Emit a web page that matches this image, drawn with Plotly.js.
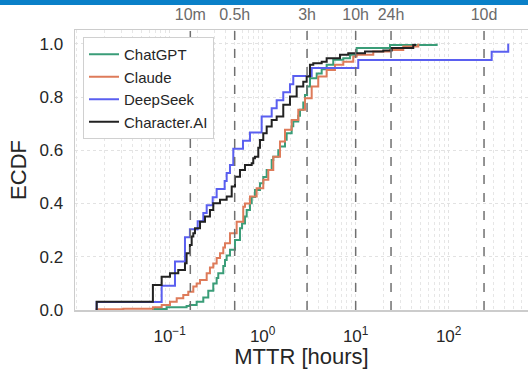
<!DOCTYPE html>
<html>
<head>
<meta charset="utf-8">
<script src="https://cdn.plot.ly/plotly-3.0.1.min.js"></script>
<style>html,body{margin:0;padding:0;background:#fff;overflow:hidden}#chart{width:528px;height:369px}</style>
</head>
<body>
<div id="chart"></div>
<script>
// ECDF step positions (MTTR in hours) and ECDF level after each step
const seriesNames = ["ChatGPT", "Claude", "DeepSeek", "Character.AI"];
const seriesColors = ["#3a9d78", "#de7b5a", "#5a5ff0", "#222222"];

const chatgptX = [0.0661,0.0929,0.152,0.165,0.195,0.2298,0.26,0.2943,0.32,0.333,0.377,0.3933,0.41,0.445,0.5035,0.57,0.60,0.645,0.673,0.73,0.762,0.826,0.935,1.015,1.104,1.25,1.30,1.471,1.535,1.738,1.811,2.05,2.133,2.414,2.518,2.733,2.85,3.0,3.225,3.81,4.31,4.875,5.74,7.36,8.68,10.25,23.4,74.3];
const chatgptY = [0.004,0.01,0.015,0.019,0.031,0.047,0.072,0.10,0.12,0.138,0.165,0.188,0.205,0.226,0.263,0.307,0.325,0.351,0.376,0.401,0.425,0.451,0.476,0.50,0.526,0.564,0.576,0.60,0.614,0.64,0.664,0.69,0.708,0.73,0.752,0.78,0.808,0.84,0.871,0.889,0.905,0.921,0.94,0.946,0.959,0.984,0.996,1.0];

const claudeX = [0.0164,0.0317,0.0661,0.082,0.1007,0.119,0.14,0.1585,0.1795,0.195,0.212,0.25,0.271,0.2943,0.32,0.3475,0.377,0.3933,0.445,0.525,0.618,0.645,0.73,0.861,1.015,1.149,1.30,1.535,1.738,2.05,2.414,2.85,3.365,3.96,4.875,5.99,7.36,9.42,10.25,15.46,23.4,32.5,47.1];
const claudeY = [0.003,0.005,0.01,0.019,0.031,0.044,0.056,0.069,0.088,0.10,0.113,0.138,0.16,0.175,0.195,0.213,0.235,0.251,0.288,0.332,0.388,0.40,0.426,0.457,0.489,0.526,0.576,0.633,0.677,0.714,0.752,0.796,0.84,0.877,0.902,0.921,0.933,0.952,0.959,0.971,0.977,0.99,1.0];

const deepseekX = [0.0164,0.082,0.114,0.146,0.165,0.2,0.23,0.25,0.29,0.32,0.39,0.41,0.445,0.483,0.614,0.73,0.975,1.25,1.414,1.665,1.966,2.133,3.365,10.66,290,437];
const deepseekY = [0.030,0.091,0.182,0.273,0.303,0.333,0.364,0.394,0.424,0.455,0.485,0.515,0.545,0.606,0.636,0.667,0.727,0.758,0.788,0.818,0.848,0.879,0.909,0.939,0.970,1.0];

const characterX = [0.0164,0.066,0.082,0.1007,0.1237,0.146,0.152,0.165,0.1724,0.1795,0.187,0.212,0.2398,0.271,0.2943,0.3475,0.41,0.4645,0.5035,0.57,0.645,0.762,0.792,0.826,0.897,0.935,1.015,1.104,1.25,1.414,1.665,1.966,2.32,2.733,2.972,3.225,3.5,4.31,4.875,6.78,8.32,12.6,19.8,24.4,41.6,43.4];
const characterY = [0.031,0.094,0.125,0.138,0.15,0.176,0.213,0.244,0.276,0.288,0.307,0.332,0.351,0.376,0.401,0.414,0.426,0.464,0.501,0.526,0.545,0.551,0.57,0.576,0.61,0.639,0.664,0.689,0.714,0.727,0.771,0.802,0.84,0.858,0.877,0.921,0.927,0.933,0.946,0.959,0.965,0.971,0.975,0.984,0.996,1.0];

const xTickVals = [0.1, 1, 10, 100];
const xTickText = ["10<sup>\u22121</sup>", "10<sup>0</sup>", "10<sup>1</sup>", "10<sup>2</sup>"];
const refVals = [1/6, 0.5, 3, 10, 24, 240];
const refText = ["10m", "0.5h", "3h", "10h", "24h", "10d"];
const yTickVals = [0, 0.2, 0.4, 0.6, 0.8, 1.0];

const allX = [chatgptX, claudeX, deepseekX, characterX];
const allY = [chatgptY, claudeY, deepseekY, characterY];

const FONT = "Liberation Sans, Arial, sans-serif";
const traces = allX.map((xs, i) => ({
  type: "scatter",
  mode: "lines",
  name: seriesNames[i],
  x: [xs[0]].concat(xs),
  y: [0].concat(allY[i]),
  line: {shape: "hv", color: seriesColors[i], width: 2},
  xaxis: "x", yaxis: "y"
}));
// invisible trace to anchor the top reference axis
traces.push({type: "scatter", mode: "markers", x: [refVals[0]], y: [0], xaxis: "x2", yaxis: "y",
  marker: {opacity: 0}, showlegend: false, hoverinfo: "skip"});

const xr = [Math.log10(0.00959), Math.log10(713)];
const shapes = refVals.map(v => ({
  type: "line", xref: "x", yref: "paper", x0: v, x1: v, y0: 0, y1: 1,
  line: {color: "#707070", width: 1.5, dash: "dash"}, layer: "above"
}));
shapes.push({type: "rect", xref: "paper", yref: "paper", x0: -0.17, x1: 1.01, y0: 1.0893, y1: 1.12,
  fillcolor: "#0a80c8", line: {width: 0}});

const layout = {
  width: 528, height: 369,
  margin: {l: 75, r: 0, t: 30, b: 59},
  paper_bgcolor: "#ffffff", plot_bgcolor: "#ffffff",
  font: {family: FONT, color: "#262626"},
  showlegend: true,
  legend: {x: 0.0177, y: 0.975, xanchor: "left", yanchor: "top", bgcolor: "#ffffff",
    bordercolor: "#d0d0d0", borderwidth: 1, font: {size: 15, color: "#262626", family: FONT}},
  xaxis: {
    type: "log", range: xr, tickmode: "array", tickvals: xTickVals, ticktext: xTickText,
    tickfont: {size: 17, color: "#262626"}, ticks: "", ticklabelstandoff: 10,
    showline: true, linecolor: "#cccccc", linewidth: 1.5,
    showgrid: true, gridcolor: "#e2e2e2", griddash: "dot", gridwidth: 1,
    minor: {dtick: "D1", showgrid: true, gridcolor: "#e6e6e6", griddash: "dot", gridwidth: 1},
    zeroline: false,
    title: {text: "MTTR [hours]", font: {size: 22, color: "#262626"}, standoff: 3}
  },
  xaxis2: {
    type: "log", range: xr, overlaying: "x", side: "top", anchor: "y",
    tickmode: "array", tickvals: refVals, ticktext: refText,
    tickfont: {size: 16, color: "#6a6a6a"}, ticks: "", ticklabelstandoff: 2,
    showline: true, linecolor: "#cccccc", linewidth: 1.5,
    showgrid: false, zeroline: false
  },
  yaxis: {
    range: [0, 1.052], tickmode: "array", tickvals: yTickVals, tickformat: ".1f",
    tickfont: {size: 17, color: "#262626"}, ticks: "", ticklabelstandoff: 7,
    showline: true, linecolor: "#cccccc", linewidth: 1.5,
    showgrid: true, gridcolor: "#e2e2e2", griddash: "dot", gridwidth: 1,
    zeroline: false,
    title: {text: "ECDF", font: {size: 22, color: "#262626"}, standoff: 7}
  },
  shapes: shapes
};

Plotly.newPlot("chart", traces, layout, {staticPlot: true, displayModeBar: false});
</script>
</body>
</html>
